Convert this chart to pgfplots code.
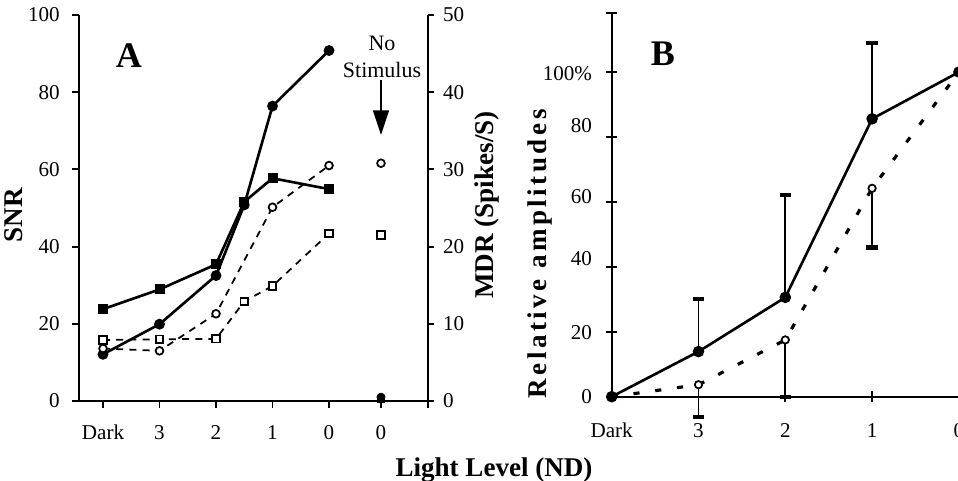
\documentclass[border=0pt]{standalone}
\usepackage{fontspec}
\setmainfont{Liberation Serif}
\usepackage{pgfplots}
\pgfplotsset{compat=1.18}
\usetikzlibrary{arrows.meta}
\begin{document}
\begin{tikzpicture}
\pgfplotsset{
  common/.style={scale only axis, clip=false,
    axis line style={-, line width=1.1pt},
    every tick/.style={black, line width=1.1pt},
    tick label style={font=\fontsize{12}{14}\selectfont},
    /pgf/number format/assume math mode=true,
  }
}
% ---------------- Panel A, left axis (SNR)
\begin{axis}[common, at={(1.58cm,1.58cm)}, anchor=south west,
  width=6.98cm, height=7.72cm,
  xmin=-0.425, xmax=5.752, ymin=0, ymax=100,
  axis x line*=bottom, axis y line*=left,
  tick align=outside, major tick length=4pt,
  xtick={0,1,2,3,4,4.92,5.752}, xticklabels={Dark\hspace{11pt},3,2,1,0,0,},
  ytick={0,20,...,100},
  xticklabel style={anchor=base, inner sep=0pt, yshift=-18pt},
  yticklabel style={inner sep=0pt, xshift=-6.8pt},
]
\addplot[line width=1.5pt, mark=square*, mark size=2.1pt] coordinates {
  (0,23.8) (1,28.9) (2,35.4) (2.5,51.6) (3,57.7) (4,54.9)};
\addplot[line width=1.5pt, mark=*, mark size=2.3pt] coordinates {
  (0,12.1) (1,19.9) (2,32.5) (2.5,50.8) (3,76.4) (4,90.8)};
\addplot[only marks, mark=*, mark size=2.3pt] coordinates {(4.92,1.0)};
\addplot[only marks, mark=square*, mark size=2.1pt] coordinates {(4.92,0.6)};
\end{axis}
% ---------------- Panel A, right axis (MDR)
\begin{axis}[common, at={(1.58cm,1.58cm)}, anchor=south west,
  width=6.98cm, height=7.72cm,
  xmin=-0.425, xmax=5.752, ymin=0, ymax=50,
  axis x line=none, axis y line*=right,
  tick align=outside, major tick length=3.4pt,
  ytick={0,10,...,50},
  yticklabel style={inner sep=0pt, xshift=5pt},
]
\addplot[line width=1pt, dash pattern=on 4pt off 3.5pt, mark=*, mark size=2.2pt,
  mark options={solid, fill=white, line width=1pt}] coordinates {
  (0,6.8) (1,6.5) (2,11.3) (3,25.1) (4,30.5)};
\addplot[line width=1pt, dash pattern=on 4pt off 3.5pt, mark=square*, mark size=2.1pt,
  mark options={solid, fill=white, line width=1pt}] coordinates {
  (0,7.9) (1,8.0) (2,8.05) (2.5,12.9) (3,14.9) (4,21.7)};
\addplot[only marks, mark=*, mark size=2.2pt, mark options={fill=white, line width=1pt}]
  coordinates {(4.92,30.8)};
\addplot[only marks, mark=square*, mark size=2.1pt, mark options={fill=white, line width=1pt}]
  coordinates {(4.92,21.5)};
\end{axis}
% ---------------- Panel B
\begin{axis}[common, at={(12.234cm,1.666cm)}, anchor=south west,
  width=6.944cm, height=7.674cm,
  xmin=0, xmax=4, ymin=0, ymax=118.2,
  axis x line*=bottom, axis y line*=left,
  tick align=center, major tick length=6pt,
  xtick={0,1,2,3,4}, xticklabels={Dark,3,2,1,0},
  xticklabel style={anchor=base, inner sep=0pt, yshift=-20pt},
  ytick={0,20,40,60,80,100,118.2}, yticklabels={,,,,,,},
  extra y ticks={0,19.9,42.7,61.5,83.4,99.4},
  extra y tick labels={0,20,40,60,80,100\%},
  extra y tick style={major tick length=0pt, yticklabel style={inner sep=0pt, xshift=-11pt}},
]
\addplot[line width=1.8pt, dash pattern=on 3.5pt off 9pt, mark=*, mark size=2.1pt,
  mark options={solid, fill=white, line width=1pt},
  error bars/.cd, y dir=minus, y explicit,
  error bar style={solid, line width=1.1pt},
  error mark options={rotate=90, mark size=3.2pt, line width=2.5pt}] coordinates {
  (0,0) (1,3.7) +- (0,9.9) (2,17.5) +- (0,17.5) (3,64.2) +- (0,18.2) (4,100)};
\addplot[line width=1.5pt, mark=*, mark size=2.5pt,
  error bars/.cd, y dir=plus, y explicit,
  error bar style={line width=1.1pt},
  error mark options={rotate=90, mark size=3.2pt, line width=2.5pt}] coordinates {
  (0,0) (1,13.9) +- (0,16.2) (2,30.6) +- (0,31.6) (3,85.6) +- (0,23.3) (4,100)};
\end{axis}
% ---------------- Labels
\node[rotate=90, font=\bfseries\fontsize{15.4}{18}\selectfont] at (0.28cm,5.3cm) {SNR};
\node[rotate=90, font=\bfseries\fontsize{15.4}{18}\selectfont] at (9.74cm,5.5cm) {MDR (Spikes/S)};
\node[rotate=90, font=\bfseries\fontsize{15.4}{18}\selectfont\addfontfeatures{LetterSpace=13}] at (10.8cm,4.52cm) {Relative amplitudes};
\node[anchor=base, font=\bfseries\fontsize{15.4}{18}\selectfont] at (9.88cm,0.07cm) {Light Level (ND)};
\node[font=\bfseries\fontsize{20.5}{24}\selectfont] at (2.58cm,8.49cm) {A};
\node[font=\bfseries\fontsize{20.5}{24}\selectfont] at (13.26cm,8.52cm) {B};
\node[font=\fontsize{12.5}{15}\selectfont] at (7.64cm,8.74cm) {No};
\node[font=\fontsize{12.5}{15}\selectfont] at (7.64cm,8.2cm) {Stimulus};
\draw[line width=1pt, -{Triangle[length=14pt, width=9pt]}] (7.62cm,8.0cm) -- (7.62cm,6.9cm);
\pgfresetboundingbox
\path[use as bounding box] (0,0) rectangle (19.16cm,9.6cm);
\end{tikzpicture}
\end{document}
